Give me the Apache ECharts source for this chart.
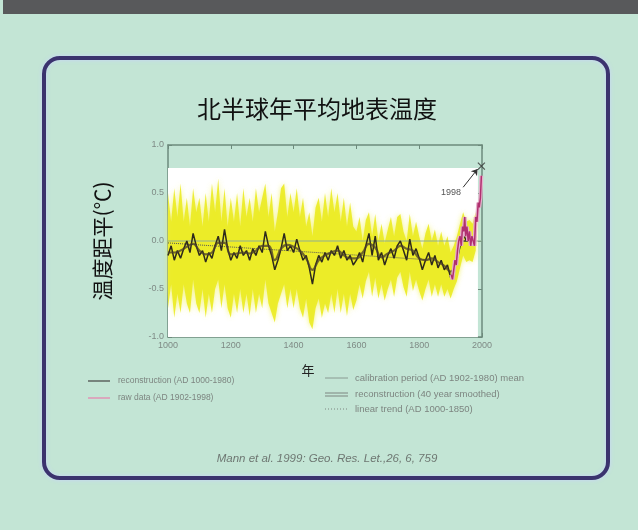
<!DOCTYPE html>
<html><head><meta charset="utf-8">
<script src="https://cdn.jsdelivr.net/npm/echarts@6/dist/echarts.min.js"></script>
<style>html,body{margin:0;padding:0;background:#c3e5d5}#c{width:638px;height:530px}</style>
</head><body><div id="c"></div>
<script>
// ---- data ----
const reconYears = [1000,1010,1020,1030,1040,1050,1060,1070,1080,1090,1100,1110,1120,1130,1140,1150,1160,1170,1180,1190,1200,1210,1220,1230,1240,1250,1260,1270,1280,1290,1300,1310,1320,1330,1340,1350,1360,1370,1380,1390,1400,1410,1420,1430,1440,1450,1460,1470,1480,1490,1500,1510,1520,1530,1540,1550,1560,1570,1580,1590,1600,1610,1620,1630,1640,1650,1660,1670,1680,1690,1700,1710,1720,1730,1740,1750,1760,1770,1780,1790,1800,1810,1820,1830,1840,1850,1860,1870,1880,1890,1900,1910,1920,1930,1940,1950,1960,1970,1980];
const reconVals = [-0.15,-0.05,-0.2,-0.1,-0.18,-0.08,0.0,-0.12,0.08,-0.05,-0.15,-0.1,-0.22,-0.12,-0.18,-0.05,0.05,-0.1,0.12,-0.08,-0.2,-0.12,-0.18,-0.05,-0.15,-0.1,-0.2,-0.08,-0.15,-0.05,-0.12,0.1,-0.05,-0.15,-0.3,-0.2,-0.08,0.08,-0.1,-0.05,-0.12,0.02,-0.1,-0.2,-0.15,-0.28,-0.45,-0.25,-0.15,-0.22,-0.12,-0.2,-0.1,-0.15,-0.05,-0.18,-0.1,-0.2,-0.15,-0.25,-0.2,-0.12,-0.22,-0.05,0.08,-0.15,0.05,-0.2,-0.12,-0.25,-0.15,-0.08,-0.18,-0.05,0.0,-0.1,-0.2,0.02,-0.15,-0.08,-0.18,-0.3,-0.2,-0.12,-0.25,-0.15,-0.28,-0.2,-0.3,-0.25,-0.38,-0.3,-0.2,-0.05,0.08,0.0,0.02,-0.02,0.1];
const bandUpper = [0.5,0.2,0.55,0.25,0.6,0.2,0.45,0.15,0.55,0.3,0.45,0.15,0.5,0.2,0.6,0.3,0.65,0.2,0.55,0.15,0.45,0.2,0.5,0.15,0.55,0.25,0.45,0.2,0.55,0.3,0.45,0.6,0.25,0.5,0.1,0.3,0.55,0.6,0.25,0.5,0.3,0.55,0.25,0.45,0.15,0.3,0.05,0.35,0.45,0.2,0.5,0.25,0.55,0.3,0.5,0.2,0.45,0.15,0.4,0.15,0.1,0.25,0.0,0.22,0.3,0.05,0.28,0.0,0.18,-0.02,0.12,0.25,0.05,0.25,0.28,0.1,0.0,0.28,0.05,0.2,0.05,-0.08,0.08,0.18,0.0,0.12,-0.05,0.1,-0.05,0.05,-0.12,-0.05,0.05,0.18,0.3,0.2,0.22,0.18,0.3];
const bandLower = [-0.7,-0.45,-0.8,-0.55,-0.75,-0.45,-0.65,-0.75,-0.4,-0.65,-0.75,-0.5,-0.8,-0.55,-0.75,-0.5,-0.4,-0.7,-0.45,-0.7,-0.8,-0.55,-0.75,-0.5,-0.75,-0.55,-0.78,-0.5,-0.75,-0.55,-0.7,-0.4,-0.65,-0.75,-0.85,-0.65,-0.55,-0.45,-0.7,-0.5,-0.7,-0.5,-0.7,-0.8,-0.6,-0.85,-0.92,-0.7,-0.6,-0.8,-0.65,-0.75,-0.55,-0.75,-0.5,-0.75,-0.55,-0.78,-0.55,-0.72,-0.62,-0.45,-0.6,-0.42,-0.32,-0.58,-0.38,-0.6,-0.45,-0.62,-0.5,-0.4,-0.58,-0.38,-0.32,-0.48,-0.58,-0.32,-0.52,-0.4,-0.52,-0.62,-0.5,-0.4,-0.58,-0.45,-0.58,-0.45,-0.58,-0.5,-0.6,-0.5,-0.42,-0.28,-0.15,-0.22,-0.2,-0.22,-0.1];
const smoothYears = [1000,1020,1040,1060,1080,1100,1120,1140,1160,1180,1200,1220,1240,1260,1280,1300,1320,1340,1360,1380,1400,1420,1440,1460,1480,1500,1520,1540,1560,1580,1600,1620,1640,1660,1680,1700,1720,1740,1760,1780,1800,1820,1840,1860,1880,1900,1920,1940,1960,1980];
const smoothVals = [-0.12,-0.12,-0.1,-0.06,-0.03,-0.1,-0.14,-0.12,-0.02,-0.02,-0.14,-0.13,-0.12,-0.13,-0.1,-0.05,-0.05,-0.2,-0.08,-0.04,-0.06,-0.1,-0.18,-0.3,-0.2,-0.15,-0.12,-0.1,-0.15,-0.18,-0.18,-0.12,-0.03,-0.07,-0.17,-0.13,-0.1,-0.05,-0.08,-0.1,-0.18,-0.2,-0.18,-0.22,-0.26,-0.32,-0.18,0.0,0.0,0.05];
const rawYears = [1902,1906,1910,1914,1918,1922,1926,1930,1934,1938,1942,1945,1948,1952,1956,1960,1964,1968,1972,1976,1980,1984,1988,1991,1995,1998];
const rawVals = [-0.35,-0.4,-0.3,-0.2,-0.25,-0.1,0.0,0.05,-0.05,0.15,0.1,0.25,0.05,0.15,0.0,0.1,-0.05,0.05,0.0,-0.05,0.25,0.2,0.4,0.35,0.45,0.68];
const trendYears = [1000,1850];
const trendVals = [-0.02,-0.2];
const calibYears = [1000,2000];
const calibVals = [0.0,0.0];
const peak1998 = [1998,0.78];
const label1998 = [1901,0.5];
const arrow1998 = [[1940,0.56],[1986,0.75]];

const title = '北半球年平均地表温度';
const yName = '温度距平(℃)';
const xName = '年';
const legendLeft = ['reconstruction (AD 1000-1980)','raw data (AD 1902-1998)'];
const legendRight = ['calibration period (AD 1902-1980) mean','reconstruction (40 year smoothed)','linear trend (AD 1000-1850)'];
const citation = 'Mann et al. 1999: Geo. Res. Let.,26, 6, 759';

const zip = (xs, ys) => xs.map((x,i)=>[x, ys[i]]);

const chart = echarts.init(document.getElementById('c'), null, {renderer:'canvas'});
const axisCol = '#6d8a7c';
const labCol = '#7f8a85';
const cjk = '"Noto Sans CJK SC", sans-serif';
const sans = '"Liberation Sans", Arial, sans-serif';

function bandItem(params, api) {
  if (params.dataIndex !== 0) return null;
  const pts = [];
  for (let i = 0; i < reconYears.length; i++) pts.push(api.coord([reconYears[i], bandUpper[i]]));
  for (let i = reconYears.length - 1; i >= 0; i--) pts.push(api.coord([reconYears[i], bandLower[i]]));
  return {type:'polygon', shape:{points:pts},
          style:{fill:'#ebeb1e', opacity:0.88, shadowBlur:5, shadowColor:'rgba(240,240,80,0.9)'}};
}

chart.setOption({
  backgroundColor: '#c3e5d5',
  animation: false,
  title: {text: title, left: 192, top: 92, textStyle:{fontFamily: cjk, fontSize: 24, fontWeight: 'normal', color:'#111'}},
  grid: {left:168, right:156, top:145, bottom:193},
  xAxis: [
    {type:'value', min:1000, max:2000, interval:200, position:'bottom',
     axisLine:{show:true, onZero:false, lineStyle:{color:axisCol, width:1.5}},
     axisTick:{inside:true, length:4, lineStyle:{color:axisCol}},
     axisLabel:{color:labCol, fontSize:9, fontFamily:sans, margin:4, formatter:v=>String(v)},
     splitLine:{show:false}},
    {type:'value', min:1000, max:2000, interval:200, position:'top',
     axisLine:{show:true, onZero:false, lineStyle:{color:axisCol, width:1.5}},
     axisTick:{inside:true, length:4, lineStyle:{color:axisCol}},
     axisLabel:{show:false}, splitLine:{show:false}}
  ],
  yAxis: [
    {type:'value', min:-1, max:1, interval:0.5, position:'left',
     axisLine:{show:true, onZero:false, lineStyle:{color:axisCol, width:1.5}},
     axisTick:{show:true, inside:true, length:4, lineStyle:{color:axisCol}},
     axisLabel:{color:labCol, fontSize:9, fontFamily:sans, margin:4, formatter:v=>v.toFixed(1)},
     splitLine:{show:false},
     name: yName, nameLocation:'middle', nameGap:55, nameRotate:90,
     nameTextStyle:{fontFamily:cjk, fontSize:21, color:'#111'}},
    {type:'value', min:-1, max:1, interval:0.5, position:'right',
     axisLine:{show:true, onZero:false, lineStyle:{color:axisCol, width:1.5}},
     axisTick:{show:true, inside:true, length:4, lineStyle:{color:axisCol}},
     axisLabel:{show:false}, splitLine:{show:false}}
  ],
  series: [
    {type:'line', name:'calib', data: zip(calibYears, calibVals), symbol:'none',
     lineStyle:{color:'#8fae92', width:1}, z:4,
     markArea:{silent:true, itemStyle:{color:'#ffffff'}, data:[[{xAxis:1000, yAxis:-1},{xAxis:1987, yAxis:0.76}]]}},
    {type:'custom', name:'band', data: zip(reconYears, bandUpper), renderItem: bandItem, z:3, silent:true},
    {type:'line', name:'trend', data: zip(trendYears, trendVals), symbol:'none',
     lineStyle:{color:'#555', width:1, type:'dotted'}, z:5},
    {type:'line', name:'recon', data: zip(reconYears, reconVals), symbol:'none',
     lineStyle:{color:'#2e2a1c', width:1.5}, z:6},
    {type:'line', name:'smooth', data: zip(smoothYears, smoothVals), symbol:'none', smooth:true,
     lineStyle:{color:'#4a3d2a', width:2.2, opacity:0.75}, z:6},
    {type:'line', name:'rawGlow', data: zip(rawYears, rawVals), symbol:'none',
     lineStyle:{color:'#e6b0cb', width:4}, z:6},
    {type:'line', name:'raw', data: zip(rawYears, rawVals), symbol:'none',
     lineStyle:{color:'#b0306f', width:1.5}, z:7,
     markLine:{silent:true, symbol:['none','arrow'], symbolSize:6,
       lineStyle:{color:'#333', width:1, type:'solid'}, label:{show:false},
       data:[[{coord:arrow1998[0]},{coord:arrow1998[1]}]]},
     markPoint:{silent:true, symbol:'rect', symbolSize:[1,1], itemStyle:{color:'rgba(0,0,0,0)'},
       label:{show:true, position:'inside', formatter:'1998', color:'#555', fontSize:9, fontFamily:sans},
       data:[{coord:label1998}]}},
    {type:'scatter', name:'1998', data:[peak1998], symbol:'path://M0,0L10,10M10,0L0,10', symbolSize:7,
     itemStyle:{color:'none', borderColor:'#333', borderWidth:1.2}, z:8}
  ],
  graphic: [
    {type:'rect', shape:{x:3, y:0, width:635, height:14}, style:{fill:'#58595b'}, z:-1, silent:true},
    {type:'rect', shape:{x:44, y:58, width:564, height:420, r:16},
     style:{fill:'none', stroke:'#3b336e', lineWidth:4, shadowBlur:4, shadowColor:'rgba(200,210,255,0.9)'}, z:0, silent:true},
    {type:'text', x:308, y:370, style:{text:xName, fill:'#222', fontSize:13, fontFamily:cjk, align:'center', verticalAlign:'middle'}},
    // left legend
    {type:'line', shape:{x1:88, y1:381, x2:110, y2:381}, style:{stroke:'#444', lineWidth:1.2}},
    {type:'text', x:118, y:381, style:{text:legendLeft[0], fill:'#7d8580', fontSize:8.5, fontFamily:sans, verticalAlign:'middle'}},
    {type:'line', shape:{x1:88, y1:398, x2:110, y2:398}, style:{stroke:'#d9a8bd', lineWidth:2}},
    {type:'text', x:118, y:398, style:{text:legendLeft[1], fill:'#7d8580', fontSize:8.5, fontFamily:sans, verticalAlign:'middle'}},
    // right legend
    {type:'line', shape:{x1:325, y1:378, x2:348, y2:378}, style:{stroke:'#8a9a92', lineWidth:1}},
    {type:'text', x:355, y:378, style:{text:legendRight[0], fill:'#7d8580', fontSize:9.5, fontFamily:sans, verticalAlign:'middle'}},
    {type:'line', shape:{x1:325, y1:393, x2:348, y2:393}, style:{stroke:'#7d8580', lineWidth:1}},
    {type:'line', shape:{x1:325, y1:396, x2:348, y2:396}, style:{stroke:'#7d8580', lineWidth:1}},
    {type:'text', x:355, y:394, style:{text:legendRight[1], fill:'#7d8580', fontSize:9.5, fontFamily:sans, verticalAlign:'middle'}},
    {type:'line', shape:{x1:325, y1:409, x2:348, y2:409}, style:{stroke:'#7d8580', lineWidth:1, lineDash:[1,2]}},
    {type:'text', x:355, y:409, style:{text:legendRight[2], fill:'#7d8580', fontSize:9.5, fontFamily:sans, verticalAlign:'middle'}},
    {type:'text', x:327, y:459, style:{text:citation, fill:'#6e7772', fontSize:11.5, fontStyle:'italic', fontFamily:sans, align:'center', verticalAlign:'middle'}}
  ]
});
</script></body></html>
